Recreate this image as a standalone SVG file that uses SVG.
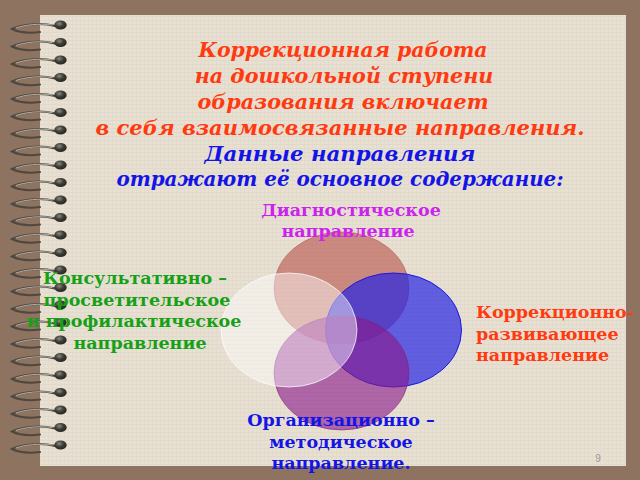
<svg xmlns="http://www.w3.org/2000/svg" width="640" height="480" viewBox="0 0 640 480">
<defs>
<style>
.title{font-family:"DejaVu Serif","Liberation Serif",serif;font-weight:bold;font-style:italic;font-size:21px;text-anchor:middle}
.red{fill:#ff3a10}
.blue{fill:#1414e6}
.lbl{font-family:"DejaVu Serif","Liberation Serif",serif;font-weight:bold;font-size:17.5px}
.mid{text-anchor:middle}
.wire{fill:none;stroke:#4e4840;stroke-width:2;stroke-linecap:round}
.wire2{fill:none;stroke:#cfcac0;stroke-width:0.8;stroke-linecap:round}
</style>
<pattern id="linen" width="4" height="4" patternUnits="userSpaceOnUse">
<rect width="4" height="4" fill="#e8e1d3"/>
<rect width="4" height="1" fill="#e0d8c9"/>
<rect width="1" height="4" fill="#e3dccd"/>
</pattern>
<radialGradient id="dotg" cx="0.4" cy="0.35" r="0.7">
<stop offset="0" stop-color="#8a8a80"/>
<stop offset="0.5" stop-color="#3c3c36"/>
<stop offset="1" stop-color="#24241f"/>
</radialGradient>
<g id="ring">
<path class="wire" d="M55,1 C40,-3 20,0 12,4 C20,8 32,8 40,7"/>
<path class="wire2" d="M52,0 C40,-2 24,0 16,3"/>
<ellipse cx="60.5" cy="0" rx="6.2" ry="4.6" fill="url(#dotg)"/>
</g>
</defs>
<rect width="640" height="480" fill="#8e7361"/>
<rect x="40" y="15" width="586" height="451" fill="url(#linen)"/>
<g id="spiral">
<use href="#ring" y="25"/><use href="#ring" y="42.5"/><use href="#ring" y="60"/><use href="#ring" y="77.5"/>
<use href="#ring" y="95"/><use href="#ring" y="112.5"/><use href="#ring" y="130"/><use href="#ring" y="147.5"/>
<use href="#ring" y="165"/><use href="#ring" y="182.5"/><use href="#ring" y="200"/><use href="#ring" y="217.5"/>
<use href="#ring" y="235"/><use href="#ring" y="252.5"/><use href="#ring" y="270"/><use href="#ring" y="287.5"/>
<use href="#ring" y="305"/><use href="#ring" y="322.5"/><use href="#ring" y="340"/><use href="#ring" y="357.5"/>
<use href="#ring" y="375"/><use href="#ring" y="392.5"/><use href="#ring" y="410"/><use href="#ring" y="427.5"/>
<use href="#ring" y="445"/>
</g>
<g id="title">
<text class="title red" x="343" y="57" style="font-size:20.4px">Коррекционная работа</text>
<text class="title red" x="344" y="83" style="font-size:20.7px">на дошкольной ступени</text>
<text class="title red" x="343" y="109" style="font-size:20.7px">образования включает</text>
<text class="title red" x="340" y="135">в себя взаимосвязанные направления.</text>
<text class="title blue" x="340" y="161" style="font-size:21.3px">Данные направления</text>
<text class="title blue" x="340" y="186" style="font-size:19.9px">отражают её основное содержание:</text>
</g>
<g id="circles">
<ellipse id="c-diag" cx="341.5" cy="288" rx="67.5" ry="56" fill="#b8504a" fill-opacity="0.6" stroke="#b05050" stroke-opacity="0.5"/>
<ellipse id="c-korr" cx="393.5" cy="330" rx="68" ry="57" fill="#2020e6" fill-opacity="0.68" stroke="#1a1ae0" stroke-width="1"/>
<ellipse id="c-org" cx="341.5" cy="373" rx="67.5" ry="57" fill="#8a1a8a" fill-opacity="0.62" stroke="#802080" stroke-opacity="0.6"/>
<ellipse id="c-kons" cx="289" cy="330" rx="68" ry="57" fill="#ffffff" fill-opacity="0.45" stroke="#ffffff" stroke-opacity="0.7"/>
</g>
<g id="n-diag">
<text class="lbl mid" fill="#cc22ee" x="351" y="216">Диагностическое</text>
<text class="lbl mid" fill="#cc22ee" x="348" y="237">направление</text>
</g>
<g id="n-kons">
<text class="lbl mid" fill="#16a016" x="135" y="284">Консультативно –</text>
<text class="lbl mid" fill="#16a016" x="137" y="306">просветительское</text>
<text class="lbl mid" fill="#16a016" x="134" y="327">и профилактическое</text>
<text class="lbl mid" fill="#16a016" x="140" y="349">направление</text>
</g>
<g id="n-korr">
<text class="lbl" fill="#ff3a10" x="476" y="318">Коррекционно-</text>
<text class="lbl" fill="#ff3a10" x="476" y="340">развивающее</text>
<text class="lbl" fill="#ff3a10" x="476" y="361">направление</text>
</g>
<g id="n-org">
<text class="lbl mid" fill="#1414e6" x="341" y="426">Организационно –</text>
<text class="lbl mid" fill="#1414e6" x="341" y="448">методическое</text>
<text class="lbl mid" fill="#1414e6" x="341" y="469">направление.</text>
</g>
<text x="598" y="462" font-family="Liberation Sans,sans-serif" font-size="10" fill="#999" text-anchor="middle">9</text>
</svg>
